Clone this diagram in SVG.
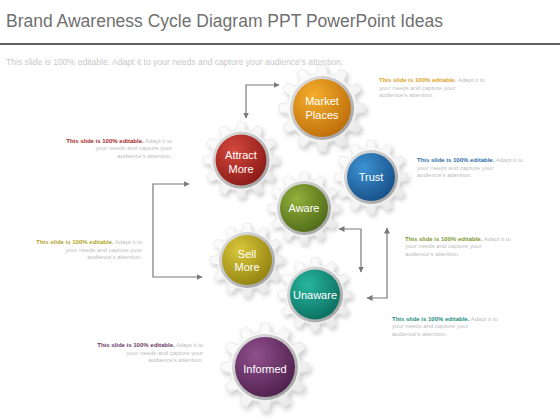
<svg xmlns="http://www.w3.org/2000/svg" xmlns:xlink="http://www.w3.org/1999/xlink" width="560" height="420" viewBox="0 0 560 420">
<style>
.title{font-family:"Liberation Sans",Arial,sans-serif;font-size:17.5px;fill:#707070}
.sub{font-family:"Liberation Sans",Arial,sans-serif;font-size:8.6px;fill:#c8c8c8}
.note{font-family:"Liberation Sans",Arial,sans-serif;font-size:6px;fill:#bdbdbd}
.note .b{font-weight:bold}
.lbl{font-family:"Liberation Sans",Arial,sans-serif;font-size:11px;fill:#ffffff;text-anchor:middle}
.conn{fill:none;stroke:#7a7a7a;stroke-width:1.2;marker-start:url(#arr);marker-end:url(#arr)}
.ring{fill:url(#ringG)}
</style>
<defs>
<marker id="arr" viewBox="0 0 6 6" refX="5.5" refY="3" markerWidth="6" markerHeight="6" markerUnits="userSpaceOnUse" orient="auto-start-reverse">
<path d="M0,0 L6,3 L0,6 z" fill="#7a7a7a"/>
</marker>
<filter id="sh" x="-30%" y="-30%" width="160%" height="160%">
<feDropShadow dx="2" dy="3" stdDeviation="2.2" flood-color="#000" flood-opacity="0.2"/>
</filter>
<linearGradient id="gearG" x1="0" y1="0" x2="1" y2="1">
<stop offset="0" stop-color="#ffffff"/>
<stop offset="0.6" stop-color="#f4f4f4"/>
<stop offset="1" stop-color="#e2e2e2"/>
</linearGradient>
<linearGradient id="ringG" x1="0" y1="0" x2="1" y2="1">
<stop offset="0" stop-color="#e6e6e6"/>
<stop offset="1" stop-color="#9a9a9a"/>
</linearGradient>
<path id="gear" filter="url(#sh)" fill="url(#gearG)" stroke="#e0e0e0" stroke-width="0.6" d="M31.61,-5 L39.85,-3.49 L39.85,3.49 L31.61,5 A32,32 0 0 1 29.88,11.47 L36.25,16.9 L32.77,22.94 L24.87,20.14 A32,32 0 0 1 20.14,24.87 L22.94,32.77 L16.9,36.25 L11.47,29.87 A32,32 0 0 1 5,31.61 L3.49,39.85 L-3.49,39.85 L-5,31.61 A32,32 0 0 1 -11.47,29.87 L-16.9,36.25 L-22.94,32.77 L-20.14,24.87 A32,32 0 0 1 -24.87,20.14 L-32.77,22.94 L-36.25,16.9 L-29.88,11.47 A32,32 0 0 1 -31.61,5 L-39.85,3.49 L-39.85,-3.49 L-31.61,-5 A32,32 0 0 1 -29.88,-11.47 L-36.25,-16.9 L-32.77,-22.94 L-24.87,-20.14 A32,32 0 0 1 -20.14,-24.87 L-22.94,-32.77 L-16.9,-36.25 L-11.47,-29.87 A32,32 0 0 1 -5,-31.61 L-3.49,-39.85 L3.49,-39.85 L5,-31.61 A32,32 0 0 1 11.47,-29.87 L16.9,-36.25 L22.94,-32.77 L20.14,-24.87 A32,32 0 0 1 24.87,-20.14 L32.77,-22.94 L36.25,-16.9 L29.88,-11.47 A32,32 0 0 1 31.61,-5 Z"/>
<radialGradient id="gOrange" cx="35%" cy="30%" r="80%"><stop offset="0" stop-color="#F5AE2C"/><stop offset="1" stop-color="#BB6A08"/></radialGradient>
<radialGradient id="gRed" cx="35%" cy="30%" r="80%"><stop offset="0" stop-color="#D4473B"/><stop offset="1" stop-color="#861816"/></radialGradient>
<radialGradient id="gBlue" cx="35%" cy="30%" r="80%"><stop offset="0" stop-color="#3C92D3"/><stop offset="1" stop-color="#154B84"/></radialGradient>
<radialGradient id="gGreen" cx="35%" cy="30%" r="80%"><stop offset="0" stop-color="#92B03C"/><stop offset="1" stop-color="#4C6716"/></radialGradient>
<radialGradient id="gMustard" cx="35%" cy="30%" r="80%"><stop offset="0" stop-color="#D9C63A"/><stop offset="1" stop-color="#8F7F0E"/></radialGradient>
<radialGradient id="gTeal" cx="35%" cy="30%" r="80%"><stop offset="0" stop-color="#27B69F"/><stop offset="1" stop-color="#0B6B5D"/></radialGradient>
<radialGradient id="gPurple" cx="35%" cy="30%" r="80%"><stop offset="0" stop-color="#90508D"/><stop offset="1" stop-color="#4B1E4A"/></radialGradient>
</defs>

<rect width="560" height="420" fill="#ffffff"/>
<text class="title" x="6" y="27">Brand Awareness Cycle Diagram PPT PowerPoint Ideas</text>
<rect x="0" y="43" width="560" height="2" fill="#5e5e5e"/>
<text class="sub" x="6" y="65">This slide is 100% editable. Adapt it to your needs and capture your audience's attention.</text>

<g id="connectors">
<path class="conn" d="M246,118 V85 H279"/>
<path class="conn" d="M189,184 H153 V277 H202"/>
<path class="conn" d="M339,229 H361 V272"/>
<path class="conn" d="M387,228 V298 H367"/>
</g>

<g id="market-places">
<use xlink:href="#gear" href="#gear" transform="translate(322,108) scale(1.08)"/>
<circle class="ring" cx="322" cy="108" r="32"/>
<circle cx="322" cy="108" r="29" fill="url(#gOrange)"/>
<text class="lbl" x="322" y="105">Market</text>
<text class="lbl" x="322" y="119">Places</text>
</g>

<g id="attract-more">
<use xlink:href="#gear" href="#gear" transform="translate(241,160) scale(0.95)"/>
<circle class="ring" cx="241" cy="160" r="28.5"/>
<circle cx="241" cy="160" r="25.5" fill="url(#gRed)"/>
<text class="lbl" x="241" y="159">Attract</text>
<text class="lbl" x="241" y="173">More</text>
</g>

<g id="trust">
<use xlink:href="#gear" href="#gear" transform="translate(371,177) scale(0.92)"/>
<circle class="ring" cx="371" cy="177" r="27"/>
<circle cx="371" cy="177" r="24" fill="url(#gBlue)"/>
<text class="lbl" x="371" y="181">Trust</text>
</g>

<g id="aware">
<use xlink:href="#gear" href="#gear" transform="translate(304,208) scale(0.9)"/>
<circle class="ring" cx="304" cy="208" r="27"/>
<circle cx="304" cy="208" r="24" fill="url(#gGreen)"/>
<text class="lbl" x="304" y="212">Aware</text>
</g>

<g id="sell-more">
<use xlink:href="#gear" href="#gear" transform="translate(247,260) scale(0.92)"/>
<circle class="ring" cx="247" cy="260" r="28"/>
<circle cx="247" cy="260" r="25" fill="url(#gMustard)"/>
<text class="lbl" x="247" y="258">Sell</text>
<text class="lbl" x="247" y="271">More</text>
</g>

<g id="unaware">
<use xlink:href="#gear" href="#gear" transform="translate(315,294.5) scale(0.92)"/>
<circle class="ring" cx="315" cy="294.5" r="28"/>
<circle cx="315" cy="294.5" r="25" fill="url(#gTeal)"/>
<text class="lbl" x="315" y="298.5">Unaware</text>
</g>

<g id="informed">
<use xlink:href="#gear" href="#gear" transform="translate(265,367) scale(1.1)"/>
<circle class="ring" cx="265" cy="367" r="33"/>
<circle cx="265" cy="367" r="30" fill="url(#gPurple)"/>
<text class="lbl" x="265" y="373">Informed</text>
</g>

<g id="notes">
<text class="note" x="379" y="82"><tspan class="b" fill="#D9A22A">This slide is 100% editable.</tspan> Adapt it to<tspan x="379" dy="7.5">your needs and capture your</tspan><tspan x="379" dy="7.5">audience's attention.</tspan></text>
<text class="note" x="172" y="142.5" text-anchor="end"><tspan class="b" fill="#A3292A">This slide is 100% editable.</tspan> Adapt it to<tspan x="172" dy="7.7">your needs and capture your</tspan><tspan x="172" dy="7.7">audience's attention.</tspan></text>
<text class="note" x="417" y="162"><tspan class="b" fill="#2E6EA6">This slide is 100% editable.</tspan> Adapt it to<tspan x="417" dy="7.5">your needs and capture your</tspan><tspan x="417" dy="7.5">audience's attention.</tspan></text>
<text class="note" x="142" y="244" text-anchor="end"><tspan class="b" fill="#B2A42A">This slide is 100% editable.</tspan> Adapt it to<tspan x="142" dy="7.5">your needs and capture your</tspan><tspan x="142" dy="7.5">audience's attention.</tspan></text>
<text class="note" x="405" y="240.5"><tspan class="b" fill="#7A9A32">This slide is 100% editable.</tspan> Adapt it to<tspan x="405" dy="7.5">your needs and capture your</tspan><tspan x="405" dy="7.5">audience's attention.</tspan></text>
<text class="note" x="392" y="320.5"><tspan class="b" fill="#1E8C80">This slide is 100% editable.</tspan> Adapt it to<tspan x="392" dy="7.5">your needs and capture your</tspan><tspan x="392" dy="7.5">audience's attention.</tspan></text>
<text class="note" x="203" y="347" text-anchor="end"><tspan class="b" fill="#6B3A6B">This slide is 100% editable.</tspan> Adapt it to<tspan x="203" dy="7.5">your needs and capture your</tspan><tspan x="203" dy="7.5">audience's attention.</tspan></text>
</g>
</svg>
